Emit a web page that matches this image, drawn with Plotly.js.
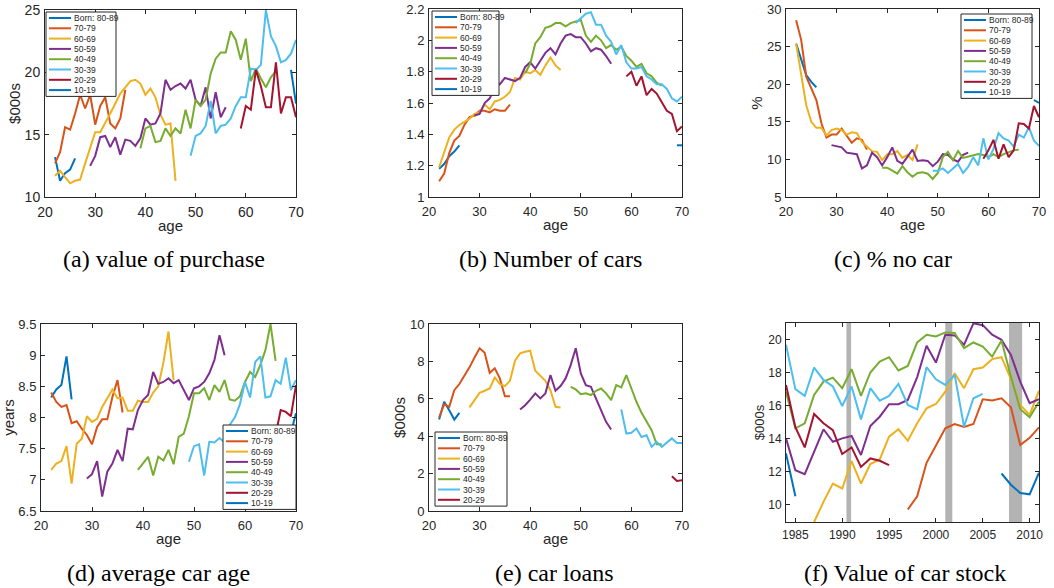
<!DOCTYPE html>
<html><head><meta charset="utf-8">
<script src="https://cdn.plot.ly/plotly-3.0.1.min.js"></script>
<style>html,body{margin:0;padding:0;background:#fff}#chart{width:1054px;height:588px}</style>
</head><body><div id="chart"></div>
<script>
// ---------- data ----------
const cohortNames = ['Born: 80-89','70-79','60-69','50-59','40-49','30-39','20-29','10-19'];
const cohortColors = ['#0072BD','#D95319','#EDB120','#7E2F8E','#77AC30','#4DBEEE','#A2142F','#0072BD'];

const ageTicks = [20,30,40,50,60,70];
const ageTickText = ['20','30','40','50','60','70'];

// (a) value of purchase ($000s)
const purchaseStart = [22,22,22,29,39,49,59,69];
const purchase8089 = [13.2,11.3,11.9,12.2,13.1];
const purchase7079 = [12.7,13.6,15.6,15.4,16.7,18.2,17.1,18.2,15.8,17.3,18.0,15.9,15.5,16.3,18.6];
const purchase6069 = [11.7,12.1,11.6,11.1,11.3,11.4,12.7,14.0,15.2,15.2,15.9,16.7,17.5,18.3,18.8,19.3,19.4,19.1,18.2,18.7,18.0,16.6,15.8,15.9,11.3];
const purchase5059 = [12.5,13.3,14.8,14.9,14.0,14.8,13.4,14.6,14.5,14.1,14.7,16.3,15.8,15.9,16.7,19.4,18.6,18.9,19.1,18.7,19.4,17.8,17.3,18.8,16.3,18.4,16.4,17.2];
const purchase4049 = [13.9,15.5,15.7,14.4,14.5,15.5,14.9,15.5,15.1,17.0,15.5,17.8,17.3,17.8,19.9,21.1,21.6,21.6,23.3,22.6,21.0,22.7,19.3,20.3,19.5,18.8,19.6,20.1];
const purchase3039 = [13.3,14.9,15.1,15.7,17.7,15.1,15.7,15.8,16.3,17.3,18.0,18.0,20.3,20.2,20.6,25.0,22.9,22.1,20.8,21.0,21.5,22.6];
const purchase2029 = [15.5,17.3,17.0,20.2,18.9,17.2,17.2,20.8,16.7,18.0,18.0,16.4];
const purchase1019 = [20.2,17.5];
const purchaseTicks = [10,15,20,25];
const purchaseTickText = ['10','15','20','25'];

// (b) number of cars
const carsStart = [22,22,22,29,39,49,59,69];
const cars8089 = [1.18,1.21,1.26,1.29,1.33];
const cars7079 = [1.10,1.15,1.28,1.36,1.39,1.46,1.51,1.52,1.55,1.55,1.54,1.56,1.55,1.55,1.59];
const cars6069 = [1.19,1.29,1.38,1.43,1.46,1.48,1.50,1.53,1.54,1.59,1.56,1.61,1.62,1.64,1.67,1.76,1.75,1.80,1.79,1.81,1.78,1.84,1.89,1.84,1.81];
const cars5059 = [1.52,1.53,1.60,1.63,1.70,1.72,1.76,1.75,1.74,1.76,1.83,1.86,1.82,1.87,1.92,1.95,1.91,1.98,2.03,2.04,2.02,2.02,1.98,1.93,1.95,1.94,1.90,1.85];
const cars4049 = [1.79,1.85,1.98,2.02,2.08,2.09,2.11,2.11,2.09,2.11,2.12,2.13,2.03,1.99,2.03,2.00,1.95,1.97,1.94,1.96,1.90,1.87,1.83,1.85,1.79,1.77,1.73,1.71];
const cars3039 = [2.11,2.14,2.17,2.18,2.10,2.10,2.03,1.99,1.91,1.97,1.86,1.82,1.82,1.83,1.77,1.75,1.72,1.72,1.69,1.63,1.61,1.64];
const cars2029 = [1.77,1.80,1.71,1.77,1.65,1.69,1.66,1.60,1.55,1.53,1.42,1.45];
const cars1019 = [1.33,1.33];
const carsTicks = [1,1.2,1.4,1.6,1.8,2,2.2];
const carsTickText = ['1','1.2','1.4','1.6','1.8','2','2.2'];

// (c) % no car
const noCarStart = [22,22,22,29,39,49,59,69];
const noCar8089 = [25.4,23.4,21.2,20.3,19.6];
const noCar7079 = [28.5,25.9,21.0,19.4,17.9,14.8,12.9,13.3,13.3,14.1,13.1,12.2,12.8,12.6,11.3];
const noCar6069 = [25.4,21.4,17.2,15.0,14.2,14.2,13.2,13.9,14.1,13.9,13.3,13.6,13.5,12.3,11.7,11.1,11.0,9.9,10.7,10.7,11.1,10.2,10.6,9.9,12.0];
const noCar5059 = [11.9,11.7,11.6,10.9,10.8,10.7,8.8,9.2,10.9,10.3,9.2,10.3,11.6,9.8,9.4,10.3,11.3,9.8,9.9,9.8,9.1,9.7,10.7,10.6,10.0,9.7,10.6,10.9];
const noCar4049 = [8.9,8.9,8.5,8.1,9.1,8.3,7.7,8.2,8.3,8.1,7.4,8.2,10.3,11.0,9.9,11.1,10.2,10.4,10.6,10.7,10.6,10.3,10.7,10.3,10.7,11.0,11.2,11.3];
const noCar3039 = [8.5,8.5,8.8,8.2,8.8,9.4,8.2,9.0,10.3,9.2,12.8,10.0,11.4,13.5,12.8,12.5,11.7,13.3,12.9,14.3,12.5,11.8];
const noCar2029 = [10.1,11.2,12.6,10.1,12.0,10.3,11.2,14.8,14.7,14.1,17.1,15.6];
const noCar1019 = [17.9,17.5];
const noCarTicks = [5,10,15,20,25,30];
const noCarTickText = ['5','10','15','20','25','30'];

// (d) average car age (years)
const carAgeStart = [22,22,22,29,39,49,59,69];
const carAge8089 = [8.32,8.45,8.52,8.98,8.29];
const carAge7079 = [8.40,8.25,8.17,8.20,7.91,7.94,7.82,7.72,7.57,7.85,7.97,7.97,8.33,8.60,8.08];
const carAge6069 = [7.16,7.26,7.30,7.54,6.94,7.58,7.66,8.02,7.93,7.98,8.17,8.31,8.45,8.31,8.32,8.11,8.11,8.27,8.25,8.25,8.40,8.50,8.88,9.38,8.60];
const carAge5059 = [7.02,7.09,7.30,6.73,7.13,7.26,7.48,7.30,7.82,7.81,8.12,8.28,8.36,8.73,8.54,8.57,8.63,8.55,8.60,8.45,8.28,8.47,8.50,8.57,8.71,8.92,9.32,9.00];
const carAge4049 = [7.16,7.26,7.37,7.07,7.37,7.31,7.48,7.25,7.69,7.74,8.02,8.39,8.39,8.47,8.28,8.52,8.41,8.60,8.29,8.27,8.34,8.57,8.73,8.65,8.84,9.08,9.50,8.91];
const carAge3039 = [7.29,7.54,7.57,7.07,7.61,7.60,7.67,7.60,7.88,8.00,8.21,8.57,8.32,8.89,8.98,8.32,8.34,8.60,8.54,8.96,8.44,8.60];
const carAge2029 = [7.35,7.45,7.30,7.55,7.50,7.65,7.60,7.72,8.12,8.09,8.02,8.52];
const carAge1019 = [7.75,8.07];
const carAgeTicks = [6.5,7,7.5,8,8.5,9,9.5];
const carAgeTickText = ['6.5','7','7.5','8','8.5','9','9.5'];

// (e) car loans ($000s)
const loansStart = [22,22,28,38,48,58,68];
const loans8089 = [4.89,5.84,5.39,4.89,5.25];
const loans7079 = [5.0,5.71,5.57,6.46,6.79,7.21,7.68,8.21,8.70,8.46,7.39,7.63,7.09,6.14,6.14];
const loans6069 = [5.54,5.96,6.32,6.43,6.55,7.14,6.79,6.68,6.96,8.04,8.43,8.52,8.57,7.50,7.21,6.96,6.46,5.57,5.54];
const loans5059 = [5.43,5.66,5.96,6.29,6.02,6.29,7.27,6.43,6.68,7.09,7.80,8.70,7.36,6.73,6.64,6.02,5.39,4.77,4.36];
const loans4049 = [6.64,6.50,6.25,6.29,6.20,6.43,6.55,6.29,5.93,6.73,6.61,7.27,6.55,5.84,5.25,4.77,4.32,3.57,3.57];
const loans3039 = [5.43,4.14,4.18,4.41,3.96,4.05,3.43,3.70,3.43,3.64,3.88,3.64,3.64];
const loans2029 = [1.86,1.61,1.64];
const loansTicks = [0,2,4,6,8,10];
const loansTickText = ['0','2','4','6','8','10'];

// (f) value of car stock ($000s), by year
const stockStart = [2007,1997,1987,1984,1984,1984,1984,1984];
const stock8089 = [11.88,11.2,10.7,10.62,11.93];
const stock7079 = [9.70,10.50,12.53,13.54,14.62,14.88,14.70,14.88,16.38,16.30,16.44,15.89,13.60,14.04,14.68];
const stock6069 = [8.94,10.16,11.27,10.97,12.63,11.27,12.45,12.73,14.11,14.56,13.86,14.92,15.83,16.09,16.84,17.96,17.05,18.20,18.30,18.81,18.93,17.6,16.03,15.43,16.90];
const stock5059 = [14.01,12.08,11.84,13.2,14.56,13.8,14.01,14.15,13.0,14.76,15.32,16.08,16.08,16.34,17.72,19.62,18.60,20.29,20.25,19.68,20.98,20.87,20.29,19.98,19.07,17.45,16.14,16.38];
const stock4049 = [16.84,14.62,14.92,16.64,17.45,17.69,17.05,18.20,16.58,18.0,18.66,18.93,18.12,18.40,19.82,20.29,20.18,20.43,20.39,19.48,19.82,19.57,18.96,19.94,17.75,15.77,15.29,16.23];
const stock3039 = [19.68,16.99,16.58,18.30,17.55,17.15,15.97,17.15,15.16,17.05,16.29,16.58,17.31,16.03,15.77,18.32,17.59,17.25,17.86,14.71,16.44,16.70];
const stock2029 = [17.25,14.68,13.46,15.49,14.92,14.51,13.06,13.46,12.28,12.79,12.65,12.39];
const stock1019 = [13.1,10.5];
const yearTicks = [1985,1990,1995,2000,2005,2010];
const yearTickText = ['1985','1990','1995','2000','2005','2010'];
const stockTicks = [10,12,14,16,18,20];
const stockTickText = ['10','12','14','16','18','20'];
const recessionStart = [1990.45,2001.0,2007.8];
const recessionEnd = [1990.95,2001.75,2009.2];

// ---------- layout helpers ----------
const W = 1054, H = 588;
const fx = p => p / W;
const fy = p => 1 - p / H;

const panels = [
  {xd:[45,296], yd:[10,197], xr:[20,70], yr:[10,25], xt:ageTicks, xtt:ageTickText, yt:purchaseTicks, ytt:purchaseTickText,
   xtitle:'age', ytitle:'$000s', starts:purchaseStart,
   series:[purchase8089,purchase7079,purchase6069,purchase5059,purchase4049,purchase3039,purchase2029,purchase1019],
   cap:'(a) value of purchase', capX:164, capY:259, leg:{l:46,t:12,w:70}, fs:14, ts:15},
  {xd:[429,682], yd:[9,197], xr:[20,70], yr:[1,2.2], xt:ageTicks, xtt:ageTickText, yt:carsTicks, ytt:carsTickText,
   xtitle:'age', ytitle:'', starts:carsStart,
   series:[cars8089,cars7079,cars6069,cars5059,cars4049,cars3039,cars2029,cars1019],
   cap:'(b) Number of cars', capX:550, capY:259, leg:{l:432,t:11,w:67}, fs:13, ts:15},
  {xd:[786,1039], yd:[9,197], xr:[20,70], yr:[5,30], xt:ageTicks, xtt:ageTickText, yt:noCarTicks, ytt:noCarTickText,
   xtitle:'age', ytitle:'%', starts:noCarStart,
   series:[noCar8089,noCar7079,noCar6069,noCar5059,noCar4049,noCar3039,noCar2029,noCar1019],
   cap:'(c) % no car', capX:893, capY:259, leg:{l:961,t:14,w:71}, fs:13, ts:15},
  {xd:[41,296], yd:[324,511], xr:[20,70], yr:[6.5,9.5], xt:ageTicks, xtt:ageTickText, yt:carAgeTicks, ytt:carAgeTickText,
   xtitle:'age', ytitle:'years', starts:carAgeStart,
   series:[carAge8089,carAge7079,carAge6069,carAge5059,carAge4049,carAge3039,carAge2029,carAge1019],
   cap:'(d) average car age', capX:158, capY:573, leg:{l:223,t:425,w:73}, fs:13, ts:15},
  {xd:[429,682], yd:[324,511], xr:[20,70], yr:[0,10], xt:ageTicks, xtt:ageTickText, yt:loansTicks, ytt:loansTickText,
   xtitle:'age', ytitle:'$000s', starts:loansStart,
   series:[loans8089,loans7079,loans6069,loans5059,loans4049,loans3039,loans2029],
   cap:'(e) car loans', capX:554, capY:573, leg:{l:435,t:432,w:72}, fs:13, ts:15},
  {xd:[786,1039], yd:[323,522], xr:[1984,2011], yr:[8.94,21], xt:yearTicks, xtt:yearTickText, yt:stockTicks, ytt:stockTickText,
   xtitle:'', ytitle:'$000s', starts:stockStart,
   series:[stock8089,stock7079,stock6069,stock5059,stock4049,stock3039,stock2029,stock1019],
   cap:'(f) Value of car stock', capX:905, capY:573, leg:null, fs:12, ts:13}
];

const AX = '#262626';
const data = [];
const layout = {
  width: W, height: H, margin: {l:0, r:0, t:0, b:0},
  paper_bgcolor: '#ffffff', plot_bgcolor: '#ffffff', showlegend: false,
  font: {family: 'Liberation Sans, Arial, sans-serif', color: AX},
  shapes: [], annotations: []
};

panels.forEach((p, i) => {
  const n = i + 1;
  const xk = 'xaxis' + (n > 1 ? n : ''), yk = 'yaxis' + (n > 1 ? n : '');
  const xa = 'x' + (n > 1 ? n : ''), ya = 'y' + (n > 1 ? n : '');
  const common = {
    showline: true, linecolor: AX, linewidth: 1, mirror: 'ticks',
    ticks: 'inside', ticklen: 4, tickwidth: 1, tickcolor: AX,
    showgrid: false, zeroline: false, fixedrange: true, tickmode: 'array',
    tickfont: {family: 'Liberation Sans, Arial, sans-serif', size: p.fs, color: AX}
  };
  layout[xk] = Object.assign({}, common, {
    domain: [fx(p.xd[0]), fx(p.xd[1])], range: p.xr, anchor: ya,
    tickvals: p.xt, ticktext: p.xtt, ticklabelstandoff: 2,
    title: p.xtitle ? {text: p.xtitle, font: {size: p.ts, color: AX}, standoff: 1} : {text: ''}
  });
  layout[yk] = Object.assign({}, common, {
    domain: [fy(p.yd[1]), fy(p.yd[0])], range: p.yr, anchor: xa,
    tickvals: p.yt, ticktext: p.ytt, ticklabelstandoff: 1,
    title: p.ytitle ? {text: p.ytitle, font: {size: p.ts, color: AX}, standoff: 0} : {text: ''}
  });

  p.series.forEach((vals, k) => {
    data.push({
      type: 'scatter', mode: 'lines', name: cohortNames[k],
      x: vals.map((_, j) => p.starts[k] + j), y: vals,
      xaxis: xa, yaxis: ya,
      line: {color: cohortColors[k], width: 2}, hoverinfo: 'x+y+name'
    });
  });

  // caption
  layout.annotations.push({
    xref: 'paper', yref: 'paper', x: fx(p.capX), y: fy(p.capY), xanchor: 'center', yanchor: 'middle',
    text: p.cap, showarrow: false,
    font: {family: 'Liberation Serif, Times New Roman, serif', size: 24, color: '#000'}
  });

  // legend box (custom, compact)
  if (p.leg) {
    const cnt = p.series.length, rowH = 10.3;
    const L = p.leg.l, T = p.leg.t, Wd = p.leg.w, Hh = cnt * rowH + 2;
    layout.shapes.push({type: 'rect', xref: 'paper', yref: 'paper', layer: 'above',
      x0: fx(L), x1: fx(L + Wd), y0: fy(T + Hh), y1: fy(T),
      line: {color: AX, width: 1}, fillcolor: '#ffffff'});
    for (let k = 0; k < cnt; k++) {
      const yy = T + 6 + k * rowH;
      layout.shapes.push({type: 'line', xref: 'paper', yref: 'paper', layer: 'above',
        x0: fx(L + 3), x1: fx(L + 25), y0: fy(yy), y1: fy(yy),
        line: {color: cohortColors[k], width: 2}});
      layout.annotations.push({xref: 'paper', yref: 'paper', x: fx(L + 26), y: fy(yy),
        xanchor: 'left', yanchor: 'middle', text: cohortNames[k], showarrow: false,
        font: {family: 'Liberation Sans, Arial, sans-serif', size: 8.5, color: AX}});
    }
  }
});

// recession shading on panel f
recessionStart.forEach((s, k) => {
  layout.shapes.push({type: 'rect', xref: 'x6', yref: 'y6 domain', layer: 'below',
    x0: s, x1: recessionEnd[k], y0: 0, y1: 1, fillcolor: '#b3b3b3', line: {width: 0}});
});

Plotly.newPlot('chart', data, layout, {displayModeBar: false, staticPlot: true});
</script></body></html>
